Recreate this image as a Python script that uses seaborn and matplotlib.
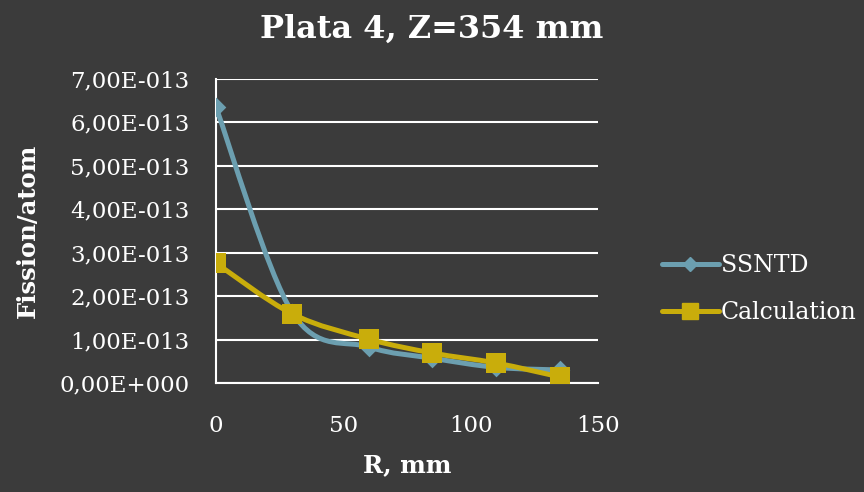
import numpy as np
import pandas as pd
import matplotlib
matplotlib.use('Agg')
import matplotlib.pyplot as plt
import seaborn as sns
from matplotlib.path import Path
from matplotlib.patches import PathPatch
from matplotlib.lines import Line2D

# ---------------- data ----------------
r_mm = [0, 30, 60, 85, 110, 135]
ssntd = [6.35e-13, 1.62e-13, 0.83e-13, 0.57e-13, 0.36e-13, 0.30e-13]
calculation = [2.76e-13, 1.59e-13, 1.01e-13, 0.69e-13, 0.46e-13, 0.14e-13]
series_names = ['SSNTD', 'Calculation']
y_ticks = [0.0, 1e-13, 2e-13, 3e-13, 4e-13, 5e-13, 6e-13, 7e-13]
y_tick_labels = ['0,00E+000', '1,00E-013', '2,00E-013', '3,00E-013',
                 '4,00E-013', '5,00E-013', '6,00E-013', '7,00E-013']
x_ticks = [0, 50, 100, 150]
title = 'Plata 4, Z=354 mm'
x_label = 'R, mm'
y_label = 'Fission/atom'

# ---------------- style ----------------
BG = '#3b3b3b'
colors = {'SSNTD': '#6c9fb0', 'Calculation': '#c9ad0b'}
markers = {'SSNTD': 'D', 'Calculation': 's'}

sns.set_style('dark')
plt.rcParams['font.serif'] = ['DejaVu Serif', 'Liberation Serif']
plt.rcParams['font.family'] = ['serif']
plt.rcParams['axes.facecolor'] = BG
plt.rcParams['figure.facecolor'] = BG

df = pd.DataFrame({
    'R': r_mm * 2,
    'value': ssntd + calculation,
    'series': [series_names[0]] * len(r_mm) + [series_names[1]] * len(r_mm),
})

fig = plt.figure(figsize=(8.64, 4.92), dpi=100)
ax = fig.add_axes([216 / 864, 1 - 383 / 492, (598 - 216) / 864, (383 - 79) / 492])
ax.set_facecolor(BG)


def smooth_path(x, y):
    pts = np.column_stack([np.asarray(x, float), np.asarray(y, float)])
    n = len(pts)
    verts = [pts[0]]
    codes = [Path.MOVETO]
    for i in range(n - 1):
        p0 = pts[max(i - 1, 0)]
        p1 = pts[i]
        p2 = pts[i + 1]
        p3 = pts[min(i + 2, n - 1)]
        c1 = p1 + (p2 - p0) / 6.0
        c2 = p2 - (p3 - p1) / 6.0
        verts += [c1, c2, p2]
        codes += [Path.CURVE4] * 3
    return Path(verts, codes)


sizes = {'SSNTD': 100, 'Calculation': 207}
for k, name in enumerate(series_names):
    sub = df[df['series'] == name]
    patch = PathPatch(smooth_path(sub['R'], sub['value']), facecolor='none',
                      edgecolor=colors[name], lw=3.6, capstyle='round',
                      joinstyle='round', zorder=3 + 2 * k)
    ax.add_patch(patch)
    sns.scatterplot(data=sub, x='R', y='value', color=colors[name],
                    marker=markers[name], s=sizes[name], linewidth=0,
                    legend=False, ax=ax, zorder=4 + 2 * k)

ax.set_xlim(0, 150)
ax.set_ylim(0, 7e-13)
ax.set_xticks(x_ticks)
ax.set_xticklabels([str(t) for t in x_ticks])
ax.set_yticks(y_ticks)
ax.set_yticklabels(y_tick_labels)
ax.tick_params(axis='both', length=0, colors='white', labelsize=16.5)
ax.tick_params(axis='y', pad=19)
ax.tick_params(axis='x', pad=23)

ax.grid(False)
ax.yaxis.grid(True, color='white', lw=1.5)
ax.xaxis.grid(False)
for side in ['top', 'right']:
    ax.spines[side].set_visible(False)
for side in ['left', 'bottom']:
    ax.spines[side].set_visible(True)
    ax.spines[side].set_color('white')
    ax.spines[side].set_linewidth(1.5)
ax.set_axisbelow(True)

ax.set_xlabel(x_label, color='white', fontsize=17.5, fontweight='bold', labelpad=12)
ax.set_ylabel(y_label, color='white', fontsize=17.5, fontweight='bold', labelpad=14)
fig.suptitle(title, color='white', fontsize=23, fontweight='bold', x=0.5, y=0.972)

handles = [
    Line2D([], [], color=colors['SSNTD'], lw=3.6, marker='D', markersize=6.8),
    Line2D([], [], color=colors['Calculation'], lw=3.6, marker='s', markersize=11),
]
leg = fig.legend(handles, series_names, loc='center left',
                 bbox_to_anchor=(662 / 864, 1 - 289 / 492), frameon=False,
                 fontsize=17, handlelength=2.4, handletextpad=0.1,
                 labelspacing=1.0, borderpad=0, borderaxespad=0)
for t in leg.get_texts():
    t.set_color('white')

fig.savefig('out.png', dpi=100, facecolor=BG)
